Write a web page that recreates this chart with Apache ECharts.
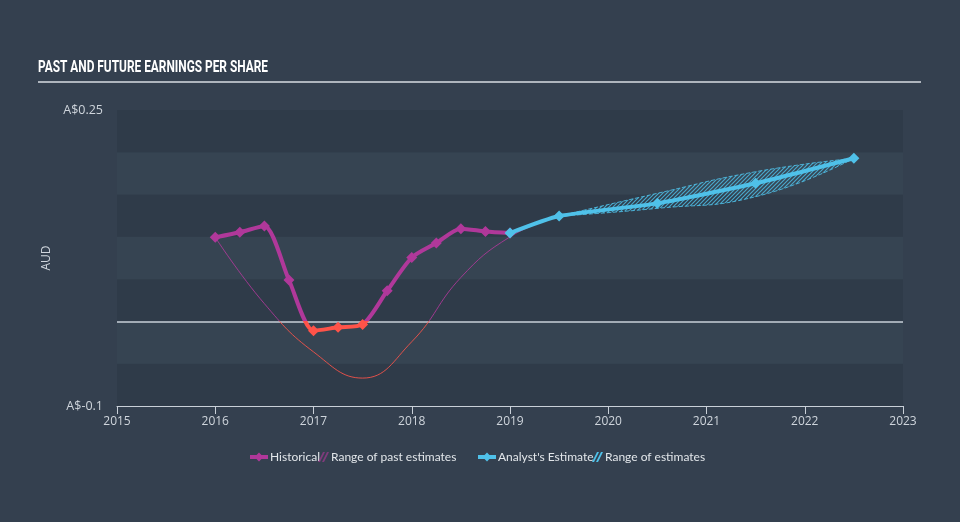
<!DOCTYPE html>
<html>
<head>
<meta charset="utf-8">
<script src="https://cdn.jsdelivr.net/npm/echarts@6/dist/echarts.min.js"></script>
<style>
html,body{margin:0;padding:0;background:#34404f;}
#chart{width:960px;height:522px;}
</style>
</head>
<body>
<div id="chart"></div>
<script>
// ---- data ----
var histX = [2016, 2016.25, 2016.5, 2016.75, 2017, 2017.25, 2017.5, 2017.75, 2018, 2018.25, 2018.5, 2018.75, 2019];
var histY = [0.0994, 0.1054, 0.1128, 0.049, -0.011, -0.007, -0.0035, 0.0363, 0.0755, 0.0927, 0.1096, 0.1064, 0.1045];

var pastRangeX = [2016, 2016.5, 2017, 2017.5, 2018, 2018.5, 2019, 2019.5];
var pastRangeY = [0.0994, 0.021, -0.036, -0.067, -0.024, 0.052, 0.1, 0.1246];

var estX = [2019, 2019.5, 2020.5, 2021.5, 2022.5];
var estY = [0.1045, 0.1246, 0.1396, 0.1633, 0.1929];

var rangeX = [2019.5, 2020.5, 2021.5, 2022.5];
var rangeLow = [0.1246, 0.1337, 0.1475, 0.1929];
var rangeHigh = [0.1246, 0.1515, 0.177, 0.1929];

var xTicks = [2015, 2016, 2017, 2018, 2019, 2020, 2021, 2022, 2023];
var yMin = -0.1, yMax = 0.25, yStep = 0.05;

var titleText = 'PAST AND FUTURE EARNINGS PER SHARE';

// ---- styles ----
var PURPLE = '#b0389a', RED = '#ff5349', CYAN = '#4fc1e9';
var TXT = '#cfd5dc';

function pairs(xs, ys) { return xs.map(function (x, i) { return [x, ys[i]]; }); }
// value first, year second (used with encode so stacking acts on the value)
function pairsYX(xs, ys) { return xs.map(function (x, i) { return [ys[i], x]; }); }

var hatch = document.createElement('canvas');
hatch.width = 4; hatch.height = 4;
(function () {
  var c = hatch.getContext('2d');
  c.strokeStyle = 'rgba(79,193,233,0.8)';
  c.lineWidth = 1.2;
  c.beginPath();
  c.moveTo(0, 4); c.lineTo(4, 0);
  c.moveTo(-1, 1); c.lineTo(1, -1);
  c.moveTo(3, 5); c.lineTo(5, 3);
  c.stroke();
})();

// condensed title: measure and squeeze horizontally
var TITLE_FONT = 'bold 17px Roboto';
var titleScale = (function () {
  var c = document.createElement('canvas').getContext('2d');
  c.font = TITLE_FONT;
  var w = c.measureText(titleText).width;
  return w > 0 ? 230 / w : 0.75;
})();

var hatchIcon = 'path://M0,10L5,0L7,0L2,10Z M4,10L9,0L11,0L6,10Z';

var chart = echarts.init(document.getElementById('chart'), null, { renderer: 'canvas' });

function legendAt(left, name, icon, w) {
  var d = icon ? { name: name, icon: icon } : { name: name };
  return {
    left: left, top: 446, data: [d], itemWidth: w, itemHeight: 11, itemGap: 0,
    selectedMode: false,
    lineStyle: { width: 4 },
    textStyle: { color: '#e2e6ea', fontSize: 12, fontFamily: 'Lato', padding: [0, 0, 0, -3] }
  };
}

var bandDiff = rangeX.map(function (x, i) { return [rangeHigh[i] - rangeLow[i], x]; });

chart.setOption({
  animation: false,
  backgroundColor: '#34404f',
  graphic: [
    {
      type: 'text', x: 38, y: 68, scaleX: titleScale, scaleY: 1, silent: true,
      style: { text: titleText, fill: '#ffffff', font: TITLE_FONT, textVerticalAlign: 'middle', verticalAlign: 'middle' }
    },
    {
      type: 'line', shape: { x1: 38, y1: 82, x2: 921, y2: 82 },
      style: { stroke: '#aeb5bd', lineWidth: 2 }, silent: true
    }
  ],
  legend: [
    legendAt(243, 'Historical', null, 18),
    legendAt(313, 'Range of past estimates', hatchIcon, 11),
    legendAt(471, "Analyst's Estimate", null, 18),
    legendAt(587, 'Range of estimates', hatchIcon, 11)
  ],
  grid: { left: 117, right: 57, top: 110, bottom: 116 },
  xAxis: {
    type: 'value', min: xTicks[0], max: xTicks[xTicks.length - 1], interval: 1,
    axisLine: { onZero: false, lineStyle: { color: '#c9d0d8', width: 1 } },
    axisTick: { show: true, length: 8, lineStyle: { color: '#c9d0d8' } },
    axisLabel: { color: TXT, fontSize: 12, fontFamily: 'Open Sans', margin: 10,
      formatter: function (v) { return String(Math.round(v)); } },
    splitLine: { show: false }
  },
  yAxis: {
    type: 'value', min: yMin, max: yMax, interval: yStep,
    name: 'AUD', nameLocation: 'middle', nameGap: 48, nameRotate: 90,
    nameTextStyle: { color: TXT, fontSize: 12, fontFamily: 'Open Sans' },
    axisLine: { show: false }, axisTick: { show: false },
    axisLabel: { color: TXT, fontSize: 12.5, fontFamily: 'Open Sans', margin: 14,
      formatter: function (v) {
        if (Math.abs(v - yMax) < 1e-9) return 'A$' + yMax;
        if (Math.abs(v - yMin) < 1e-9) return 'A$' + yMin;
        return '';
      } },
    splitLine: { show: false },
    splitArea: { show: true, areaStyle: { color: ['#2f3b49', '#364452'] } }
  },
  visualMap: {
    show: false, type: 'piecewise', seriesIndex: [0, 1], dimension: 1,
    pieces: [{ min: -1, max: 0, color: RED }, { gt: 0, max: 1, color: PURPLE }]
  },
  series: [
    {
      name: 'Historical', type: 'line', data: pairs(histX, histY),
      smooth: 0.25, symbol: 'diamond', symbolSize: 11, z: 4,
      lineStyle: { width: 4 }, itemStyle: { color: PURPLE }
    },
    {
      name: 'Range of past estimates', type: 'line', data: pairs(pastRangeX, pastRangeY),
      smooth: 0.45, symbol: 'none', z: 2,
      lineStyle: { width: 1, opacity: 0.85 }, itemStyle: { color: PURPLE, opacity: 0.6 }
    },
    {
      name: 'bandLow', type: 'line', data: pairsYX(rangeX, rangeLow), encode: { x: 1, y: 0 },
      stack: 'band', smooth: true, symbol: 'none', z: 2,
      lineStyle: { width: 1, type: 'dashed', color: CYAN, opacity: 0.85 },
      itemStyle: { color: CYAN }
    },
    {
      name: 'Range of estimates', type: 'line', data: bandDiff, encode: { x: 1, y: 0 },
      stack: 'band', smooth: true, symbol: 'none', z: 2,
      lineStyle: { width: 1, type: 'dashed', color: CYAN, opacity: 0.85 },
      itemStyle: { color: CYAN },
      areaStyle: { color: { image: hatch, repeat: 'repeat' }, opacity: 1 }
    },
    {
      name: "Analyst's Estimate", type: 'line', data: pairs(estX, estY),
      smooth: 0.2, symbol: 'diamond', symbolSize: 11, z: 5,
      lineStyle: { width: 4, color: CYAN }, itemStyle: { color: CYAN },
      markLine: {
        silent: true, symbol: ['none', 'none'], label: { show: false },
        lineStyle: { color: '#c9d0d8', width: 1.5, type: 'solid' },
        data: [{ yAxis: 0 }], z: 1
      }
    }
  ]
});
</script>
</body>
</html>
